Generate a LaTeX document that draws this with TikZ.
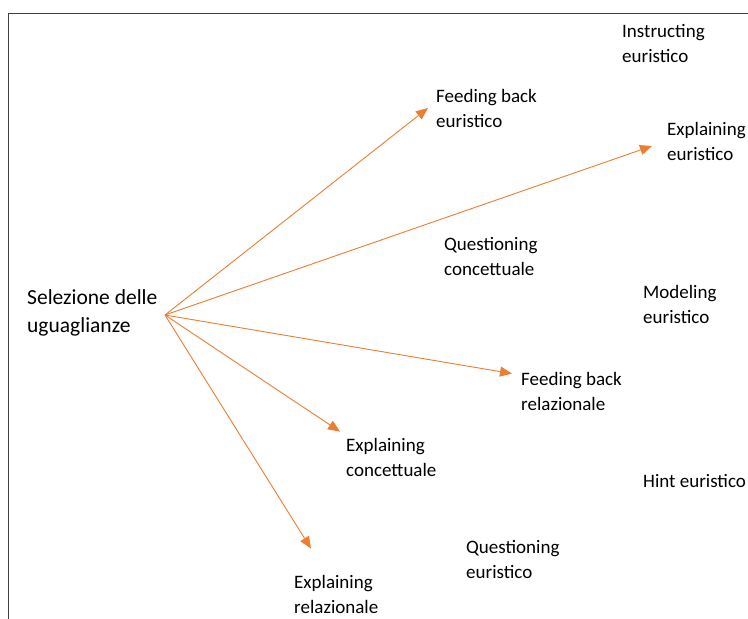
\documentclass[tikz,border=0pt]{standalone}
\usepackage{fontspec}
\setmainfont{Carlito}
\usetikzlibrary{arrows.meta}
\definecolor{accent}{RGB}{237,125,49}
\definecolor{frameline}{RGB}{64,64,64}
\begin{document}
\begin{tikzpicture}[x=1pt,y=-1pt,
  label/.style={anchor=base west,inner sep=0pt,align=left,
    font=\fontsize{19}{25}\selectfont},
  rootlabel/.style={anchor=base west,inner sep=0pt,align=left,
    font=\fontsize{21.5}{28}\selectfont},
  link/.style={draw=accent,line width=0.9pt,
    -{Triangle[length=12pt,width=10pt]}}]
  \useasboundingbox (0,0) rectangle (748,619);
  % frame on the top and left edges
  \draw[frameline,line width=1.3pt] (748,13.5) -- (8.5,13.5) -- (8.5,619);

  % root label (placed by the baseline of its last line) and the arrows' origin
  \node[rootlabel] (sel) at (27,332) {Selezione delle\\uguaglianze};
  \coordinate (hub) at (165,315);

  % the other labels, each placed by the baseline of its last line
  \node[label] (ins) at (622,62)  {Instructing\\euristico};
  \node[label] (fbe) at (436,127) {Feeding back\\euristico};
  \node[label] (exe) at (667,160) {Explaining\\euristico};
  \node[label] (qco) at (444,275) {Questioning\\concettuale};
  \node[label] (mod) at (643,323) {Modeling\\euristico};
  \node[label] (fbr) at (521,410) {Feeding back\\relazionale};
  \node[label] (eco) at (346,476) {Explaining\\concettuale};
  \node[label] (hin) at (643,487) {Hint euristico};
  \node[label] (qeu) at (466,578) {Questioning\\euristico};
  \node[label] (erl) at (294,613) {Explaining\\relazionale};

  % arrows
  \draw[link] (hub) -- ([xshift=-8pt]fbe.west);
  \draw[link] (hub) -- ([xshift=-15pt,yshift=-5pt]exe.west);
  \draw[link] (hub) -- ([xshift=-9pt,yshift=-2pt]fbr.north west);
  \draw[link] (hub) -- ([xshift=-6pt,yshift=6pt]eco.north west);
  \draw[link] (hub) -- ([xshift=17pt,yshift=26pt]erl.north west);
\end{tikzpicture}
\end{document}
